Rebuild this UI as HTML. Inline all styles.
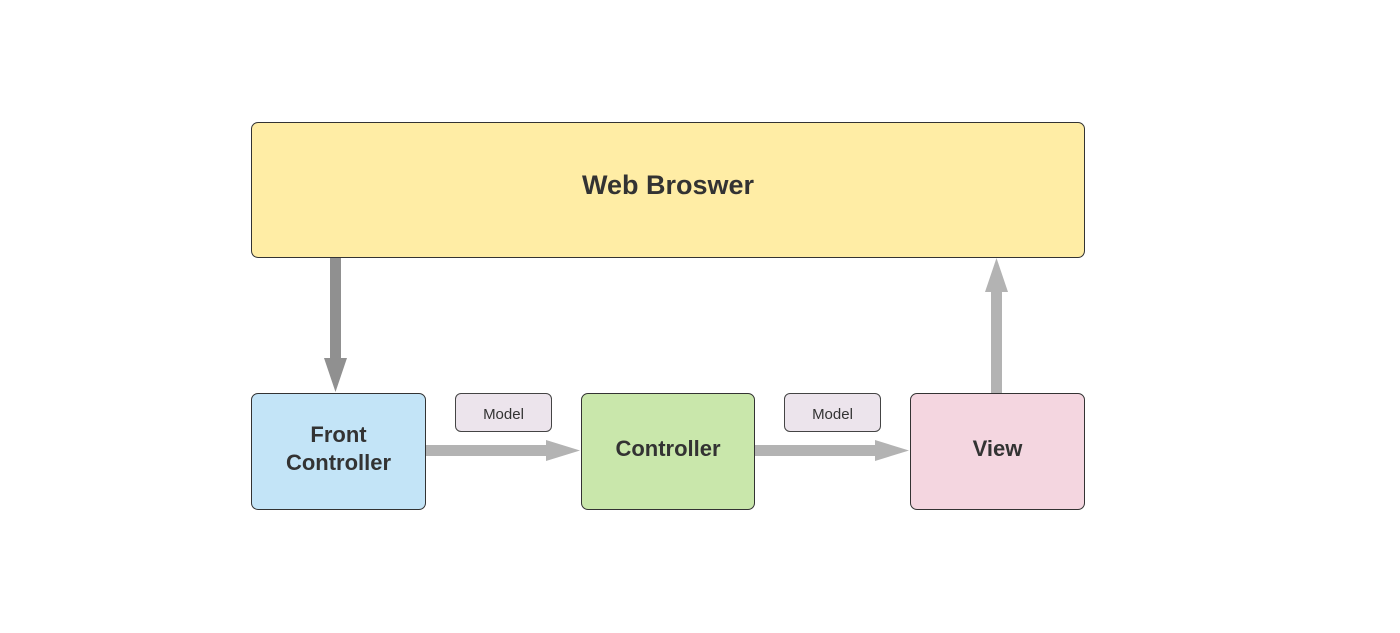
<!DOCTYPE html>
<html><head><style>
body{margin:0;width:1400px;height:633px;background:#fff;position:relative;font-family:"Liberation Sans",sans-serif;overflow:hidden}
.b{position:absolute;box-sizing:border-box;border:1px solid #333;border-radius:7px;display:flex;align-items:center;justify-content:center;text-align:center;font-weight:bold;color:#333;padding-bottom:6px}
.m{position:absolute;box-sizing:border-box;border:1px solid #444;border-radius:6px;background:#ece4ec;display:flex;align-items:center;justify-content:center;font-size:15px;color:#333;padding-top:3px}
</style></head><body>
<svg width="1400" height="633" style="position:absolute;left:0;top:0">
<rect x="330" y="257" width="11" height="104" fill="#909090"/>
<polygon points="324,358 347,358 335.5,392" fill="#909090"/>
<rect x="425" y="445" width="124" height="11" fill="#b3b3b3"/>
<polygon points="546,440 546,461 580,450.5" fill="#b3b3b3"/>
<rect x="754" y="445" width="124" height="11" fill="#b3b3b3"/>
<polygon points="875,440 875,461 909,450.5" fill="#b3b3b3"/>
<rect x="991" y="290" width="11" height="104" fill="#b3b3b3"/>
<polygon points="985,292 1008,292 996.5,258" fill="#b3b3b3"/>
</svg>
<div class="b" style="left:251px;top:122px;width:834px;height:136px;background:#ffeda5;font-size:27px;padding-bottom:10px">Web Broswer</div>
<div class="b" style="left:251px;top:393px;width:175px;height:117px;background:#c3e4f7;font-size:22px;line-height:28px">Front<br>Controller</div>
<div class="b" style="left:581px;top:393px;width:174px;height:117px;background:#c9e7ab;font-size:22px">Controller</div>
<div class="b" style="left:910px;top:393px;width:175px;height:117px;background:#f4d6e0;font-size:22px">View</div>
<div class="m" style="left:455px;top:393px;width:97px;height:39px">Model</div>
<div class="m" style="left:784px;top:393px;width:97px;height:39px">Model</div>
</body></html>
